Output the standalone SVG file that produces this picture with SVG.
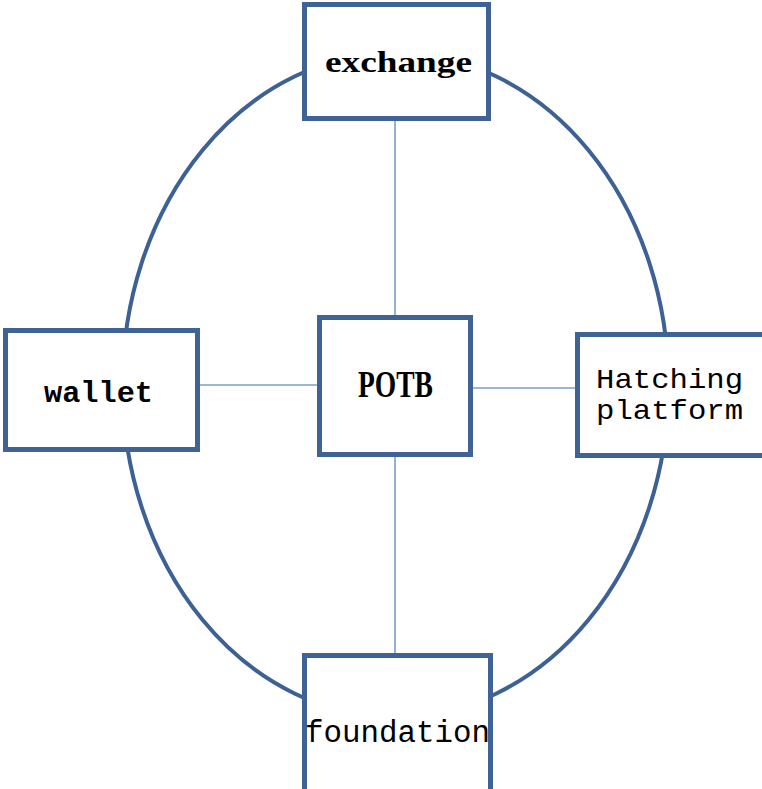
<svg xmlns="http://www.w3.org/2000/svg" width="762" height="789" viewBox="0 0 762 789">
<style>
.box{fill:#fff;stroke:#3F6395;stroke-width:5}
.ring{fill:none;stroke:#3D6194;stroke-width:4}
.link{stroke:#7D9CC8;stroke-width:1.6;fill:none}
.serif{font-family:"Liberation Serif","DejaVu Serif",serif;font-weight:bold;fill:#000}
.mono{font-family:"Liberation Mono","DejaVu Sans Mono",monospace;fill:#000}
</style>
<rect width="762" height="789" fill="#fff"/>
<ellipse class="ring" cx="395.5" cy="385" rx="273" ry="332"/>
<g id="connectors">
<line class="link" x1="395" y1="121" x2="395" y2="316"/>
<line class="link" x1="395" y1="456" x2="395" y2="654"/>
<line class="link" x1="200" y1="385" x2="318" y2="385"/>
<line class="link" x1="472" y1="388" x2="576" y2="388"/>
</g>
<g id="exchange">
<rect class="box" x="304.5" y="4.5" width="184" height="114"/>
<text class="serif" x="325" y="72" font-size="30" textLength="147" lengthAdjust="spacingAndGlyphs">exchange</text>
</g>
<g id="wallet">
<rect class="box" x="5.5" y="330.5" width="192" height="119"/>
<text class="mono" font-weight="bold" x="44" y="402" font-size="30" textLength="109" lengthAdjust="spacingAndGlyphs">wallet</text>
</g>
<g id="POTB">
<rect class="box" x="319.5" y="317.5" width="151" height="137"/>
<text class="serif" x="358" y="397" font-size="37" textLength="75" lengthAdjust="spacingAndGlyphs">POTB</text>
</g>
<g id="hatching">
<rect class="box" x="577.5" y="334.5" width="192" height="121"/>
<text class="mono" x="596" y="388" font-size="28" textLength="147" lengthAdjust="spacingAndGlyphs">Hatching</text>
<text class="mono" x="596" y="419" font-size="28" textLength="147" lengthAdjust="spacingAndGlyphs">platform</text>
</g>
<g id="foundation">
<rect class="box" x="304.5" y="655.5" width="186" height="140"/>
<text class="mono" x="305" y="742" font-size="31" textLength="185" lengthAdjust="spacingAndGlyphs">foundation</text>
</g>
</svg>
